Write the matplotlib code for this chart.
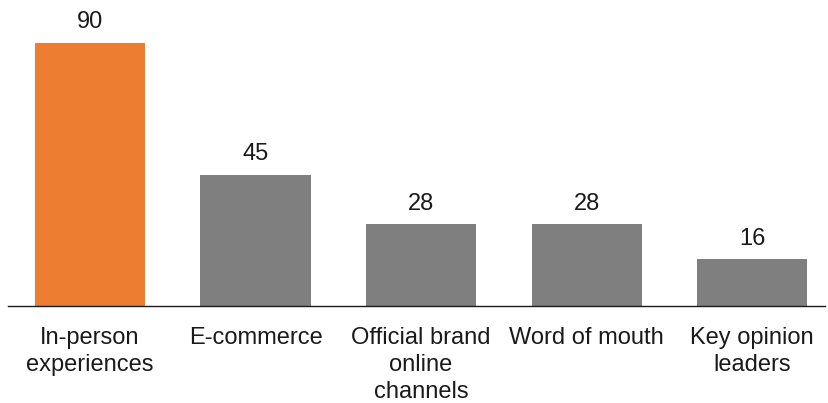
import matplotlib
matplotlib.use('Agg')
import matplotlib.pyplot as plt

categories = ['In-person\nexperiences', 'E-commerce', 'Official brand\nonline\nchannels',
              'Word of mouth', 'Key opinion\nleaders']
values = [90, 45, 28, 28, 16]
colors = ['#ED7D31', '#7F7F7F', '#7F7F7F', '#7F7F7F', '#7F7F7F']

plt.rcParams['font.family'] = ['Liberation Sans', 'DejaVu Sans']


def main():
    fig = plt.figure(figsize=(8.29, 4.03), dpi=100)
    ax = fig.add_axes([8/829, 97/403, 817/829, 306/403])

    x = list(range(len(values)))
    bars = ax.bar(x, values, width=0.665, color=colors)
    for b, v in zip(bars, values):
        ax.annotate(str(v), (b.get_x() + b.get_width()/2, v), xytext=(0, 7),
                    textcoords='offset points', ha='center', va='bottom',
                    fontsize=17, color='#1a1a1a')

    ax.set_xlim(-0.495, 4.44)
    ax.set_ylim(0, 306/2.92)
    ax.set_xticks(x)
    ax.set_xticklabels(categories, fontsize=17, color='#1a1a1a', linespacing=1.3)
    ax.tick_params(axis='x', length=0, pad=15)
    ax.set_yticks([])
    for s in ['top', 'right', 'left']:
        ax.spines[s].set_visible(False)
    ax.spines['bottom'].set_color('#1a1a1a')
    ax.spines['bottom'].set_linewidth(1.0)

    fig.savefig('out.png', dpi=100)


if __name__ == '__main__':
    main()
